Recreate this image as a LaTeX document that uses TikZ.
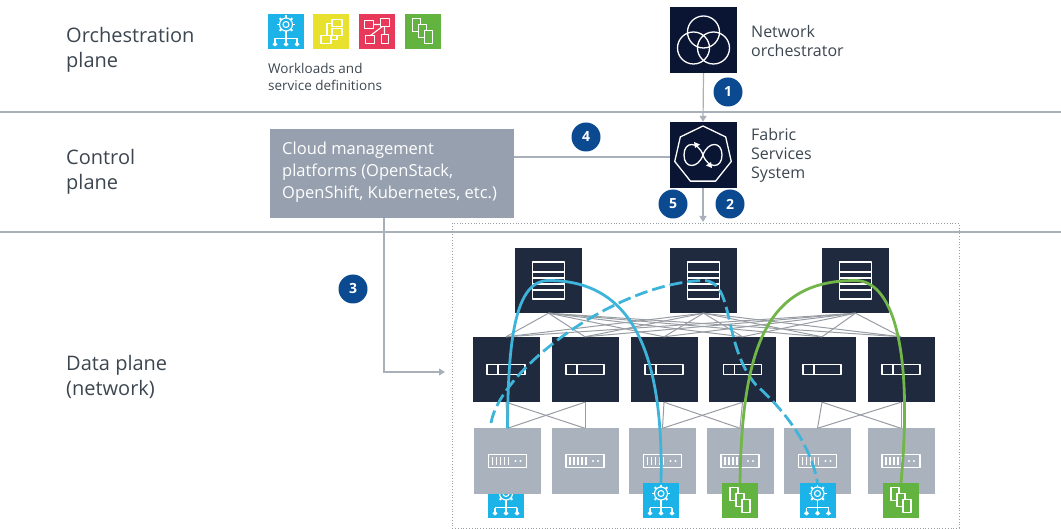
\documentclass[tikz,border=0pt]{standalone}
\usepackage{fontspec}
\setmainfont{Open Sans}
\usetikzlibrary{arrows.meta}
\definecolor{navybox}{HTML}{1F2A3E}
\definecolor{orchbox}{HTML}{0A1433}
\definecolor{graybox}{HTML}{AAB3BD}
\definecolor{cmpbox}{HTML}{96A0AE}
\definecolor{rulegray}{HTML}{A9B0BA}
\definecolor{meshgray}{HTML}{989CA3}
\definecolor{labelgray}{HTML}{3C4650}
\definecolor{badgeblue}{HTML}{0B4A90}
\definecolor{appcyan}{HTML}{1CB4E8}
\definecolor{appyellow}{HTML}{E8E22E}
\definecolor{appred}{HTML}{E8395A}
\definecolor{appgreen}{HTML}{62B33F}
\definecolor{flowblue}{HTML}{3FB4DA}
\definecolor{flowgreen}{HTML}{72B548}
\tikzset{
  planelabel/.style={anchor=west,inner sep=0pt,align=left,text=labelgray,font=\fontsize{20}{25}\selectfont},
  sidelabel/.style={anchor=west,inner sep=0pt,align=left,text=labelgray,font=\fontsize{16}{19}\selectfont},
  darkbox/.style={fill=navybox,minimum width=67pt,minimum height=65pt,inner sep=0pt},
  lightbox/.style={fill=graybox,minimum width=67pt,minimum height=65pt,inner sep=0pt},
  ctrlbox/.style={fill=orchbox,minimum width=67pt,minimum height=66pt,inner sep=0pt},
  appbox/.style={fill=#1,minimum width=36pt,minimum height=35pt,inner sep=0pt},
  badge/.style={circle,fill=badgeblue,text=white,minimum size=29pt,inner sep=0pt,font=\fontsize{14}{14}\bfseries\selectfont},
  meshline/.style={draw=meshgray,line width=1pt},
  feedline/.style={draw=rulegray,line width=1.2pt},
  feedarrow/.style={feedline,-{Triangle[length=6pt,width=7pt]}},
  iconline/.style={draw=white,line width=1.1pt,line join=round},
  flowline/.style={draw=flowblue,line width=2.8pt},
  flowdash/.style={flowline,dash pattern=on 13pt off 5pt},
  pics/gearicon/.style={code={
    \draw[iconline] (0,-7) circle (3);
    \draw[iconline] (0,-7) circle (6.5);
    \foreach \a in {0,45,...,315} \draw[iconline,line width=1.8pt] (0,-7)+(\a:6.5) -- +(\a:9);
    \draw[iconline] (0,2) -- (0,12) (-11,7) -- (11,7) (-11,7) -- (-11,12) (11,7) -- (11,12);
    \foreach \a in {-11,0,11} \fill[white] (\a,10) -- (\a+2.5,13) -- (\a,15) -- (\a-2.5,13) -- cycle;
  }},
  pics/docsicon/.style={code={
    \draw[iconline,fill=appgreen] (-10,-13) rectangle (-2,0);
    \draw[iconline,fill=appgreen] (-4,-7) rectangle (4,6);
    \draw[iconline,fill=appgreen] (2,-1) rectangle (10,12);
  }},
  pics/flowicon/.style={code={
    \draw[iconline] (1,-12) rectangle (11,-5);
    \draw[iconline] (1,-3) rectangle (11,4);
    \draw[iconline] (-10,4) rectangle (0,12);
    \draw[iconline] (-4,4) -- (-4,-8) -- (1,-8) (6,4) -- (6,8) -- (0,8);
  }},
  pics/meshicon/.style={code={
    \draw[iconline] (-12,-11) rectangle (-3,-3);
    \draw[iconline] (-11,4) rectangle (-2,12);
    \draw[iconline] (4,-13) rectangle (13,-5);
    \draw[iconline] (5,3) rectangle (12,12);
    \draw[iconline] (-3,-7) -- (4,-7) (-6,4) -- (6,-5) (8,-5) -- (8,3);
  }},
  pics/spineicon/.style={code={
    \draw[iconline] (-16,-18.5) rectangle (16,18.5);
    \foreach \y in {-8.5,-2.5,3.5,9.5} \draw[iconline] (-16,\y) -- (16,\y);
  }},
  pics/leaficon/.style={code={
    \draw[iconline] (-19,-5) rectangle (19,5);
    \draw[iconline] (-8,-5) -- (-8,5);
  }},
  pics/accessicon/.style={code={
    \draw[iconline] (-19,-6.5) rectangle (19,6.5);
    \foreach \x in {-15,-11,-7,-3,1} \draw[iconline] (\x,-4) -- (\x,4);
    \fill[white] (8,0) circle (1.2) (13,0) circle (1.2);
  }},
}
\begin{document}
\begin{tikzpicture}[x=1pt,y=-1pt]
\useasboundingbox (0,0) rectangle (1061,529);

% plane rules and labels
\coordinate (ruleAl) at (0,112);
\coordinate (ruleAr) at (1061,112);
\coordinate (ruleBl) at (0,232);
\coordinate (ruleBr) at (1061,232);
\draw[feedline,line width=1.5pt] (ruleAl) -- (ruleAr);
\draw[feedline,line width=1.5pt] (ruleBl) -- (ruleBr);
\node[planelabel] (orchlabel) at (66,50) {Orchestration\\plane};
\node[planelabel] (ctrllabel) at (66,172) {Control\\plane};
\node[planelabel] (datalabel) at (66,376.5) {Data plane\\(network)};

% workloads
\node[appbox=appcyan] (wlGear) at (286,31.5) {};
\node[appbox=appyellow] (wlFlow) at (331,31.5) {};
\node[appbox=appred] (wlMesh) at (376.5,31.5) {};
\node[appbox=appgreen] (wlDocs) at (422.5,31.5) {};
\pic at (wlGear) {gearicon};
\pic at (wlFlow) {flowicon};
\pic at (wlMesh) {meshicon};
\pic at (wlDocs) {docsicon};
\node[sidelabel,font=\fontsize{13.5}{17}\selectfont] (wllabel) at (268,77) {Workloads and\\service definitions};

% controllers
\node[ctrlbox] (orch) at (703.5,40) {};
\draw[iconline,line width=1.3pt] (orch)+(0,-8) circle (16) +(-10,8) circle (16) +(10,8) circle (16);
\node[sidelabel] (orchname) at (751,41) {Network\\orchestrator};
\node[ctrlbox] (fss) at (703,155) {};
\begin{scope}[shift={(fss)}]
\draw[iconline,line width=1.3pt] (-90:29) \foreach \a in {1,...,6} {-- (-90+\a*51.43:29)} -- cycle;
\draw[iconline,line width=1.3pt] (0,0) .. controls (-5,-14) and (-19,-14) .. (-19,0) .. controls (-19,14) and (-5,14) .. (0,0) .. controls (5,-14) and (19,-14) .. (19,0) .. controls (19,14) and (5,14) .. (0,0);
\fill[white] (-9,-13) -- (-3,-10.5) -- (-8,-7) -- cycle;
\fill[white] (9,13) -- (3,10.5) -- (8,7) -- cycle;
\end{scope}
\node[sidelabel] (fssname) at (751,155) {Fabric\\Services\\System};
\node[fill=cmpbox,minimum width=244pt,minimum height=89pt,inner sep=0pt] (cmp) at (392,173.5) {};
\node[sidelabel,text=white,font=\fontsize{16.5}{22}\selectfont] (cmptext) at (282,172) {Cloud management\\platforms (OpenStack,\\OpenShift, Kubernetes, etc.)};

% fabric frame
\draw[dotted,draw=meshgray,line width=0.8pt] (452,223) rectangle (959,528);

\node[appbox=appcyan] (appA) at (506,500.5) {};
\pic at (appA) {gearicon};

\node[darkbox] (spineA) at (548.5,280.5) {};
\node[darkbox] (spineB) at (703.5,280.5) {};
\node[darkbox] (spineC) at (855.5,280.5) {};
\node[darkbox] (leafA) at (506,369.5) {};
\node[darkbox] (leafB) at (585,369.5) {};
\node[darkbox] (leafC) at (664,369.5) {};
\node[darkbox] (leafD) at (742.5,369.5) {};
\node[darkbox] (leafE) at (822,369.5) {};
\node[darkbox] (leafF) at (901,369.5) {};
\node[lightbox] (edgeA) at (507.5,461) {};
\node[lightbox] (edgeB) at (585,461) {};
\node[lightbox] (edgeC) at (662.5,461) {};
\node[lightbox] (edgeD) at (740,461) {};
\node[lightbox] (edgeE) at (817.5,461) {};
\node[lightbox] (edgeF) at (901,461) {};

\foreach \s in {spineA,spineB,spineC}
  \foreach \l in {leafA,leafB,leafC,leafD,leafE,leafF}
    \draw[meshline] (\s.south) -- (\l.north);
\foreach \l/\e in {leafA/edgeA,leafA/edgeB,leafB/edgeA,leafB/edgeB,leafC/edgeC,leafC/edgeD,leafD/edgeC,leafD/edgeD,leafE/edgeE,leafE/edgeF,leafF/edgeE,leafF/edgeF}
  \draw[meshline] (\l.south) -- (\e.north);

\foreach \s in {spineA,spineB,spineC} \pic at (\s) {spineicon};
\foreach \l in {leafA,leafB,leafC,leafD,leafE,leafF} \pic at (\l) {leaficon};
\foreach \e in {edgeA,edgeB,edgeC,edgeD,edgeE,edgeF} \pic at (\e) {accessicon};

\node[appbox=appcyan] (appB) at (661,500.5) {};
\node[appbox=appgreen] (appC) at (740,500.5) {};
\node[appbox=appcyan] (appD) at (817.5,500.5) {};
\node[appbox=appgreen] (appE) at (901,500.5) {};
\pic at (appB) {gearicon};
\pic at (appC) {docsicon};
\pic at (appD) {gearicon};
\pic at (appE) {docsicon};

% flows
\coordinate (dashstart) at (491,423);
\coordinate (dashbend) at (756,385);
\draw[flowline] (edgeA.north) .. controls (508,340) and (515,280.5) .. (spineA.center) .. controls (625,280.5) and (664,340) .. (appB.north);
\draw[flowdash] (dashstart) .. controls (500,370) and (615,283) .. (spineB.center) .. controls (735,280.5) and (722,345) .. (dashbend) .. controls (790,415) and (812,450) .. (appD.north);
\draw[flowline,draw=flowgreen] (appC.north) .. controls (742,340) and (770,280.5) .. (spineC.center) .. controls (890,280.5) and (914,340) .. (appE.north);

% control connections
\coordinate (fabrictop) at (703,222);
\coordinate (cmpout) at (514,157);
\coordinate (fssin) at (669.5,157);
\coordinate (cmpdown) at (384,218);
\coordinate (fabricleft) at (445,372);
\draw[feedarrow] (orch.south) -- (fss.north);
\draw[feedarrow] (fss.south) -- (fabrictop);
\draw[feedline] (cmpout) -- (fssin);
\draw[feedarrow] (cmpdown) |- (fabricleft);

\node[badge] (stepA) at (728,92) {1};
\node[badge] (stepB) at (730,204) {2};
\node[badge] (stepC) at (353,289) {3};
\node[badge] (stepD) at (586,137) {4};
\node[badge] (stepE) at (673,204) {5};

\end{tikzpicture}
\end{document}
